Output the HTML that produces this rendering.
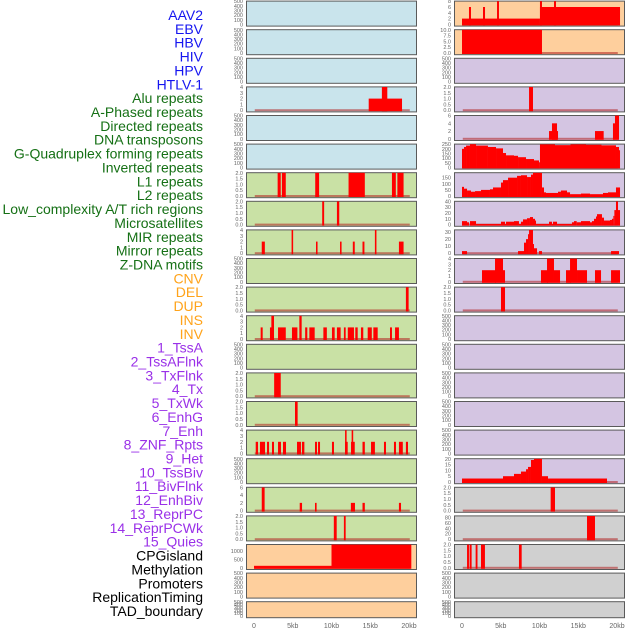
<!DOCTYPE html>
<html><head><meta charset="utf-8"><style>
html,body{margin:0;padding:0;background:#fff;}
svg{display:block;font-family:"Liberation Sans",sans-serif;}
</style></head><body>
<svg id="chart" width="630" height="630" viewBox="0 0 630 630" xmlns="http://www.w3.org/2000/svg"></svg>
<script>
// ---- data ----
const trackLabels = ["AAV2","EBV","HBV","HIV","HPV","HTLV-1","Alu repeats","A-Phased repeats","Directed repeats","DNA transposons","G-Quadruplex forming repeats","Inverted repeats","L1 repeats","L2 repeats","Low_complexity A/T rich regions","Microsatellites","MIR repeats","Mirror repeats","Z-DNA motifs","CNV","DEL","DUP","INS","INV","1_TssA","2_TssAFlnk","3_TxFlnk","4_Tx","5_TxWk","6_EnhG","7_Enh","8_ZNF_Rpts","9_Het","10_TssBiv","11_BivFlnk","12_EnhBiv","13_ReprPC","14_ReprPCWk","15_Quies","CPGisland","Methylation","Promoters","ReplicationTiming","TAD_boundary"];
const labelGroups = ["v","v","v","v","v","v","r","r","r","r","r","r","r","r","r","r","r","r","r","s","s","s","s","s","c","c","c","c","c","c","c","c","c","c","c","c","c","c","c","o","o","o","o","o"];
const xTickValues = [0,5,10,15,20];
const xTickLabels = ["0","5kb","10kb","15kb","20kb"];

const T500=[0,100,200,300,400,500], T2=[0,0.5,1,1.5,2], T4=[0,1,2,3,4], T6=[0,2,4,6], T8=[0,2,4,6,8];
const T10=[0,2.5,5,7.5,10], T250=[0,50,100,150,200,250], T150=[0,50,100,150], T40=[0,10,20,30,40], T30=[0,10,20,30], T20=[0,5,10,15,20], T80=[0,20,40,60,80], T1000=[0,500,1000];

// left column bars [startKb, endKb, value]
const L_alu=[[14.8,19.1,2],[16.5,17.2,4]];
const L_row6=[[3.05,3.45,2],[3.6,4.1,2],[7.9,8.4,2],[12.2,14.3,2],[17.8,18.3,2],[18.5,19.3,2]];
const L_row7=[[8.8,9.05,2],[10.7,11.0,2]];
const L_row8=[[1.0,1.4,2],[4.85,5.05,4],[8.0,8.2,2],[11.1,11.3,2],[12.75,13.0,2],[14.0,14.25,2],[15.6,15.8,4],[18.7,19.3,2]];
const L_row10=[[19.6,19.95,2]];
const L_row11=[[0.86,1.12,2],[2.06,2.58,2],[2.24,2.58,4],[3.1,4.1,2],[4.9,5.6,2],[5.85,6.15,4],[6.6,6.88,2],[7.14,7.83,2],[8.95,9.4,2],[10.06,10.41,2],[10.7,11.18,2],[11.6,11.83,2],[12.1,12.9,2],[13.07,13.38,2],[13.8,14.1,2],[14.67,15.2,2],[15.4,15.96,2],[17.55,17.8,2],[18.2,18.7,2]];
const L_row13=[[2.6,3.45,2]];
const L_row14=[[5.29,5.63,2]];
const L_row15=[[0.22,0.52,2],[0.77,1.42,2],[1.68,1.94,2],[2.32,2.58,2],[3.1,3.48,2],[3.74,4.13,2],[5.55,6.06,2],[6.19,6.5,2],[7.87,8.13,2],[8.26,8.52,2],[10.06,10.32,2],[11.74,12.09,2],[11.75,11.95,4],[12.52,13.0,2],[12.6,12.8,4],[14.0,14.3,2],[15.1,15.6,2],[16.77,17.03,2],[18.06,18.32,2],[18.7,19.2,2],[19.6,19.87,2]];
const L_row17=[[1.0,1.37,6],[5.9,6.2,2],[7.87,8.08,2],[12.5,13.03,2],[14.0,14.3,2],[18.7,18.97,2]];
const L_row18=[[10.3,10.67,2],[11.6,11.83,2]];
const L_cpg=[[0,10.0,120],[10.0,20.3,1400]];

// right column bars
const R_aav2=[[0,10.06,2],[0.9,1.16,6],[2.71,2.97,6],[4.52,4.77,8],[10.06,20.39,6],[10.06,10.32,8],[11.87,12.13,8]];
const R_ebv=[[0,10.32,10]];
const R_hiv=[[8.65,9.16,2]];
const R_hpv=[[11.23,12.39,2],[11.61,12.26,4],[17.16,18.28,2],[19.48,19.74,4],[19.74,20.26,6]];
const R_gq=[[0,0.26,200],[0.26,0.52,220],[0.52,1.03,235],[1.03,1.81,250],[1.81,3.35,235],[3.35,4.39,220],[4.39,5.29,205],[5.29,5.68,155],[5.68,6.71,130],[6.71,7.23,125],[7.23,8.26,110],[8.26,9.29,90],[9.29,9.94,75],[9.94,10.06,55],[10.06,12,248],[12,14,240],[14,16,248],[16,18,244],[18,19.87,238],[19.87,20.26,220],[20.26,20.39,185]];
const R_l1=[[0,0.26,75],[0.26,0.65,60],[0.65,1.16,45],[1.16,1.68,35],[1.68,2.45,40],[2.45,3.61,50],[3.61,4.0,55],[4.0,5.03,70],[5.03,5.29,110],[5.29,5.94,130],[5.94,7.1,150],[7.1,7.61,165],[7.61,8.39,170],[8.39,8.9,155],[8.9,9.16,175],[9.16,10.32,190],[10.32,10.58,70],[10.58,10.84,30],[10.84,12.39,25],[12.39,12.77,35],[12.77,13.55,45],[13.55,13.94,30],[13.94,15.35,15],[15.35,16.52,20],[16.52,18.19,15],[18.19,18.84,25],[18.84,19.87,30],[19.87,20.39,70]];
const R_l2=[[0,0.65,6],[0.65,0.9,4],[1.03,1.81,6],[1.81,5.03,1],[5.03,5.55,5],[5.55,5.68,1],[5.68,6.71,5],[6.71,7.35,6],[7.35,7.61,1],[7.61,7.87,5],[7.87,8.39,9],[8.39,8.77,11],[8.77,9.16,13],[9.16,9.42,10],[9.42,9.55,7],[9.55,11.23,1],[11.23,11.61,5],[11.61,11.74,1],[11.74,12.26,5],[12.26,14.19,1],[14.19,14.45,4],[14.45,14.8,6],[14.8,15.35,4],[15.35,16.52,6],[16.52,16.77,4],[16.77,17.03,6],[17.03,17.29,10],[17.29,17.42,14],[17.42,18.06,18],[18.06,18.32,12],[18.32,19.1,7],[19.1,19.35,8],[19.35,19.53,10],[19.53,19.66,15],[19.66,19.87,25],[19.87,20.13,40],[20.13,20.39,25]];
const R_mir=[[0,0.65,3],[7.23,8.0,3],[8.0,8.26,15],[8.26,8.52,20],[8.52,8.65,27],[8.65,9.16,33],[9.16,9.29,13],[9.29,9.68,7],[9.94,10.32,3],[19.23,20.26,3]];
const R_zdna=[[2.58,4.39,2],[4.26,5.29,4],[5.29,5.55,2],[10.19,11.1,2],[10.97,11.87,4],[11.87,12.65,2],[13.42,14.06,2],[13.94,14.84,4],[14.84,16.13,2],[17.16,17.94,2],[19.23,20.39,2]];
const R_row10=[[5.03,5.55,2]];
const R_tssbiv=[[0,5.29,3],[5.29,6.71,5],[6.71,7.61,7],[7.61,8.26,9],[8.26,8.52,11],[8.52,8.9,13],[8.9,9.29,19],[9.29,10.32,20],[10.32,11.1,5],[11.1,18.71,3]];
const R_row17=[[11.44,12.0,2]];
const R_row18=[[16.13,17.16,85]];
const R_row19=[[0.65,0.9,2],[0.98,1.24,2],[1.76,2.0,2],[2.45,2.96,2],[7.35,7.7,2]];

const BLUE="#c9e4ec", GREEN="#c9e1a5", ORANGE="#fecf9d", PURPLE="#d4c5e2", GRAY="#d0d0d0";
const leftPanels=[
 [null,500,T500,BLUE],[null,500,T500,BLUE],[null,500,T500,BLUE],[L_alu,4,T4,BLUE],[null,500,T500,BLUE],[null,500,T500,BLUE],
 [L_row6,2,T2,GREEN],[L_row7,2,T2,GREEN],[L_row8,4,T4,GREEN],[null,500,T500,GREEN],[L_row10,2,T2,GREEN],[L_row11,4,T4,GREEN],
 [null,500,T500,GREEN],[L_row13,2,T2,GREEN],[L_row14,2,T2,GREEN],[L_row15,4,T4,GREEN],[null,500,T500,GREEN],[L_row17,6,T6,GREEN],
 [L_row18,2,T2,GREEN],[L_cpg,1400,T1000,ORANGE],[null,500,T500,ORANGE],[null,500,T500,ORANGE]];
const rightPanels=[
 [R_aav2,8,T8,ORANGE],[R_ebv,10,T10,ORANGE],[null,500,T500,PURPLE],[R_hiv,2,T2,PURPLE],[R_hpv,6,T6,PURPLE],[R_gq,250,T250,PURPLE],
 [R_l1,190,T150,PURPLE],[R_l2,40,T40,PURPLE],[R_mir,33,T30,PURPLE],[R_zdna,4,T4,PURPLE],[R_row10,2,T2,PURPLE],[null,500,T500,PURPLE],
 [null,500,T500,PURPLE],[null,500,T500,PURPLE],[null,500,T500,PURPLE],[null,500,T500,PURPLE],[R_tssbiv,20,T20,PURPLE],[R_row17,2,T2,GRAY],
 [R_row18,85,T80,GRAY],[R_row19,2,T2,GRAY],[null,500,T500,GRAY],[null,500,T500,GRAY]];

// ---- drawing ----
const NS="http://www.w3.org/2000/svg";
const svg=document.getElementById('chart');
function mk(tag,attrs,parent){const e=document.createElementNS(NS,tag);for(const k in attrs)e.setAttribute(k,attrs[k]);(parent||svg).appendChild(e);return e;}
const groupColor={v:"#1515f0",r:"#157015",s:"#ffa31a",c:"#9a30e8",o:"#000000"};

trackLabels.forEach((t,i)=>{
  const e=mk('text',{x:203,y:15+i*13.86+5,'text-anchor':'end','font-size':14,fill:groupColor[labelGroups[i]]});
  e.textContent=t;
  
  
});

function fmt(v,ticks){const dec=ticks.some(t=>t%1!==0);return dec?v.toFixed(1):String(v);}

function drawColumn(panels,x0,side){
  const pw=170, kb0=x0+8, kbScale=7.75;
  const xs=k=>kb0+k*kbScale;
  panels.forEach((p,i)=>{
    const [bars,ymax,ticks,bg]=p;
    const top=0.6+i*28.6, h=(i===21)?16:25;
    const g=mk('g',{});
    
    
    mk('rect',{x:x0+0.5,y:top+0.5,width:pw,height:h,fill:bg,stroke:'#5a5a5a','stroke-width':1},g);
    const ys=v=>top+h-1.2-(v/ymax)*(h-1.8);
    if(bars){
      mk('rect',{x:xs(0.1),y:ys(0)-1,width:xs(20.1)-xs(0.1),height:2,fill:'#b02020',opacity:0.55},g);
      bars.forEach(b=>{
        const y=Math.max(top+0.5,ys(b[2]));
        const r=mk('rect',{x:xs(b[0]),y:y,width:Math.max(0.8,xs(b[1])-xs(b[0])),height:ys(0)-y+1,fill:'#ff0000'},g);
        
        
      });
    }
    ticks.forEach(t=>{
      const lab=mk('text',{x:x0-3,y:ys(t)+2,'text-anchor':'end','font-size':5.5,fill:'#666'},g);
      lab.textContent=fmt(t,ticks);
      
      
    });
  });
  xTickValues.forEach((v,j)=>{
    const e=mk('text',{x:xs(v),y:628,'text-anchor':'middle','font-size':7,fill:'#666'});
    e.textContent=xTickLabels[j];
    
    
  });
}
drawColumn(leftPanels,246,'left');
drawColumn(rightPanels,454,'right');
</script>
</body></html>
